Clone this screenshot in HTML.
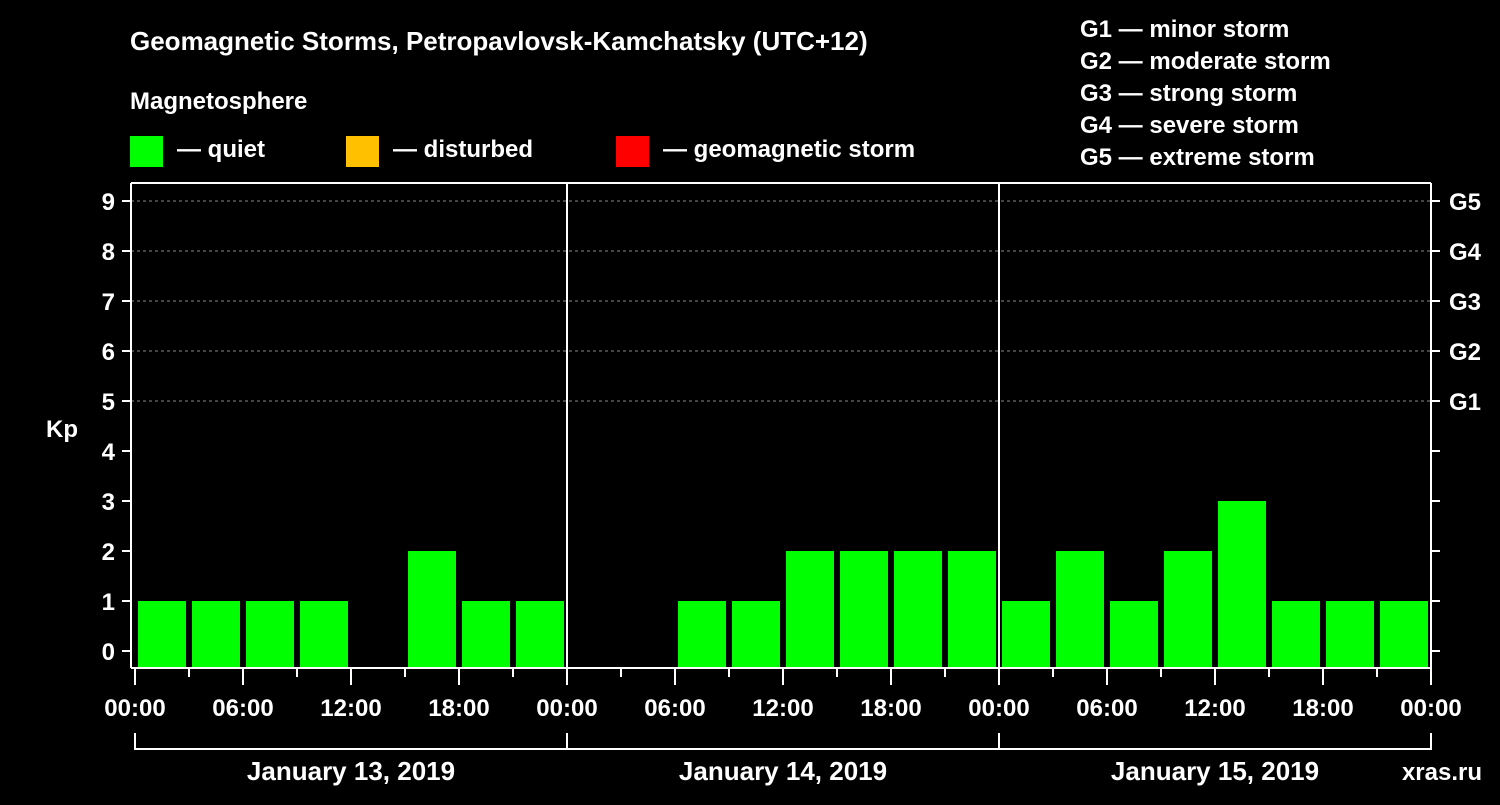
<!DOCTYPE html>
<html><head><meta charset="utf-8"><style>
body{margin:0;background:#000;}
svg text{font-family:"Liberation Sans",sans-serif;font-weight:bold;fill:#fff;}
</style></head><body>
<svg id="c" width="1500" height="800" xmlns="http://www.w3.org/2000/svg">
<rect width="1500" height="800" fill="#000"/>
<text x="130" y="50" font-size="26">Geomagnetic Storms, Petropavlovsk-Kamchatsky (UTC+12)</text>
<text x="130" y="109" font-size="24">Magnetosphere</text>
<g><rect x="130" y="136" width="33" height="31" fill="#00ff00"/><text x="177" y="157" font-size="24">— quiet</text></g>
<g><rect x="346" y="136" width="33" height="31" fill="#ffc000"/><text x="393" y="157" font-size="24">— disturbed</text></g>
<g><rect x="616" y="136" width="33" height="31" fill="#ff0000"/><text x="663" y="157" font-size="24">— geomagnetic storm</text></g>
<g font-size="24">
<text x="1080" y="37">G1 — minor storm</text>
<text x="1080" y="69">G2 — moderate storm</text>
<text x="1080" y="101">G3 — strong storm</text>
<text x="1080" y="133">G4 — severe storm</text>
<text x="1080" y="165">G5 — extreme storm</text>
</g>
<text x="62" y="437" font-size="24" text-anchor="middle">Kp</text>
<g id="grid"></g><g id="bars"></g><g id="axes"></g>
</svg>
<script>
const days = ["January 13, 2019","January 14, 2019","January 15, 2019"];
const kpValues = [1,1,1,1,0,2,1,1, 0,0,1,1,2,2,2,2, 1,2,1,2,3,1,1,1];
const yTicks = [0,1,2,3,4,5,6,7,8,9];
const gLabels = ["G1","G2","G3","G4","G5"];
const xTickLabels = ["00:00","06:00","12:00","18:00"];
const NS="http://www.w3.org/2000/svg";
const X0=135, BIN=54, Y0=651, UNIT=50, TOP=183, BOT=668, X1=X0+BIN*kpValues.length;
const sx=i=>X0+BIN*i, sy=v=>Y0-UNIT*v;
function mk(tag,attrs,parent,txt){const e=document.createElementNS(NS,tag);for(const k in attrs)e.setAttribute(k,attrs[k]);if(txt!==undefined)e.textContent=txt;document.getElementById(parent).appendChild(e);return e;}
yTicks.forEach(v=>{
  if(v>=5){const g=mk('line',{x1:X0-4,x2:X1,y1:sy(v),y2:sy(v),stroke:'#888','stroke-dasharray':'3,3','stroke-width':1},'grid');
  
  }
  const t=mk('line',{x1:X0-13,x2:X0-4,y1:sy(v),y2:sy(v),stroke:'#fff','stroke-width':2},'axes');
  
  
  const r=mk('line',{x1:X1,x2:X1+9,y1:sy(v),y2:sy(v),stroke:'#fff','stroke-width':2},'axes');
  
  
  const l=mk('text',{x:115,y:sy(v)+9,'font-size':24,'text-anchor':'end'},'axes',String(v));
  
  
});
gLabels.forEach((g,i)=>{
  const l=mk('text',{x:1449,y:sy(5+i)+9,'font-size':24},'axes',g);
  
  
});
kpValues.forEach((v,i)=>{
  if(v<=0)return;
  const b=mk('rect',{x:sx(i)+3,y:sy(v),width:BIN-6,height:BOT-sy(v),fill:'#00ff00'},'bars');
  
  
});
// frame
[[X0-4,TOP,X1,TOP],[X0-4,BOT,X1,BOT],[X0-4,TOP,X0-4,BOT],[X1,TOP,X1,BOT]].forEach(a=>{
  const f=mk('line',{x1:a[0],y1:a[1],x2:a[2],y2:a[3],stroke:'#fff','stroke-width':2},'axes');
  
  
});
for(let i=0;i<=kpValues.length;i++){
  const major=i%2===0;
  const t=mk('line',{x1:sx(i),x2:sx(i),y1:BOT,y2:BOT+(major?17:9),stroke:'#fff','stroke-width':2},'axes');
  
  
  if(major){
    const l=mk('text',{x:sx(i),y:716,'font-size':24,'text-anchor':'middle'},'axes',xTickLabels[(i/2)%4]);
    
    
  }
}
days.forEach((d,k)=>{
  const a=sx(k*8), b=sx(k*8+8);
  if(k>0){const s=mk('line',{x1:a,x2:a,y1:TOP,y2:BOT,stroke:'#fff','stroke-width':2},'axes');
  
  }
  const br=mk('polyline',{points:`${a},733 ${a},749 ${b},749 ${b},733`,fill:'none',stroke:'#fff','stroke-width':2},'axes');
  
  
  const l=mk('text',{x:(a+b)/2,y:780,'font-size':26,'text-anchor':'middle'},'axes',d);
  
  
});
</script>
<svg style="position:absolute;left:0;top:0" width="1500" height="800"><text x="1482" y="780" font-size="24" text-anchor="end" fill="#555" style="font-family:'Liberation Sans',sans-serif;font-weight:bold">xras.ru</text></svg>
</body></html>
